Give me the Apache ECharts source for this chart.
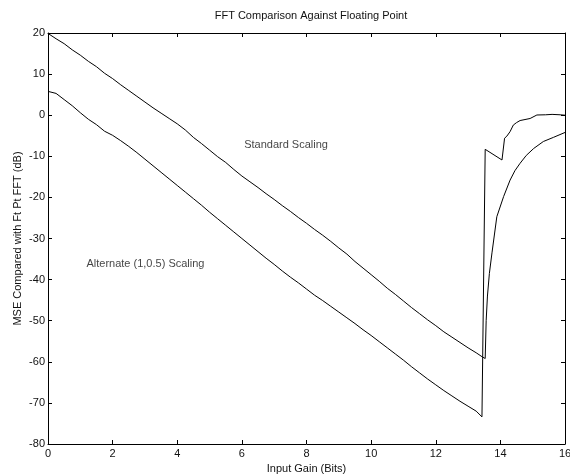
<!DOCTYPE html>
<html>
<head>
<meta charset="utf-8">
<script src="https://cdn.jsdelivr.net/npm/echarts@6/dist/echarts.min.js"></script>
<style>
  html, body { margin: 0; padding: 0; background: #fff; }
  #chart { width: 570px; height: 475px; }
</style>
</head>
<body>
<div id="chart"></div>
<script>
// Standard scaling curve (input gain in bits, MSE in dB)
var stdX = [0, 0.25, 0.5, 0.75, 1, 1.25, 1.5, 1.75, 2, 2.25, 2.5, 2.75, 3, 3.25, 3.5, 3.75,
  4, 4.25, 4.5, 4.75, 5, 5.25, 5.5, 5.75, 6, 6.25, 6.5, 6.75, 7, 7.25, 7.5, 7.75,
  8, 8.25, 8.5, 8.75, 9, 9.25, 9.5, 9.75, 10, 10.25, 10.5, 10.75, 11, 11.25, 11.5, 11.75,
  12, 12.25, 12.5, 12.75, 13, 13.25, 13.44, 13.53,
  13.56, 13.6, 13.66, 13.74, 13.89, 14.1, 14.3, 14.45, 14.61, 14.8, 15.03, 15.33, 15.64, 16]
var stdY = [19.9, 18.6, 17.4, 15.9, 14.6, 13.1, 11.8, 10.2, 8.9, 7.4, 6.0, 4.6, 3.2, 1.8, 0.5, -0.8,
  -2.1, -3.6, -5.4, -6.9, -8.5, -10.1, -11.5, -13.2, -14.8, -16.2, -17.6, -19.1, -20.5, -22.0, -23.4, -24.9,
  -26.3, -27.8, -29.2, -30.7, -32.3, -33.8, -35.6, -37.2, -38.8, -40.4, -42.1, -43.6, -45.2, -46.8, -48.3, -49.8,
  -51.2, -52.7, -54.0, -55.3, -56.6, -57.8, -58.8, -59.2,
  -50.0, -44.0, -38.5, -33.5, -24.7, -19.8, -15.8, -13.5, -11.7, -9.8, -8.1, -6.4, -5.4, -4.2]

// Alternate (1,0.5) scaling curve
var altX = [0, 0.25, 0.5, 0.75, 1, 1.25, 1.5, 1.75, 2, 2.25, 2.5, 2.75, 3, 3.25, 3.5, 3.75,
  4, 4.25, 4.5, 4.75, 5, 5.25, 5.5, 5.75, 6, 6.25, 6.5, 6.75, 7, 7.25, 7.5, 7.75,
  8, 8.25, 8.5, 8.75, 9, 9.25, 9.5, 9.75, 10, 10.25, 10.5, 10.75, 11, 11.25, 11.5, 11.75,
  12, 12.25, 12.5, 12.75, 13, 13.25, 13.43,
  13.53, 14.05, 14.13, 14.2, 14.3, 14.4, 14.5, 14.61, 14.92, 15.13, 15.4, 15.6, 15.85, 16]
var altY = [5.8, 5.3, 3.8, 2.3, 0.6, -1.0, -2.3, -3.9, -4.9, -6.2, -7.6, -9.1, -10.7, -12.3, -13.9, -15.5,
  -17.1, -18.7, -20.3, -21.9, -23.6, -25.2, -26.8, -28.4, -30.0, -31.6, -33.2, -34.8, -36.3, -37.9, -39.4, -40.8,
  -42.3, -43.8, -45.1, -46.5, -47.9, -49.3, -50.7, -52.2, -53.6, -55.1, -56.6, -58.1, -59.6, -61.2, -62.7, -64.2,
  -65.6, -67.0, -68.3, -69.6, -70.8, -72.0, -73.4,
  -8.3, -10.9, -5.6, -5.1, -4.0, -2.4, -1.8, -1.3, -0.8, 0.05, 0.1, 0.2, 0.1, 0]

var notes = [
  { name: "Standard Scaling", value: [6.07, -7.25] },
  { name: "Alternate (1,0.5) Scaling", value: [1.19, -36.3] },
]

function pairs(xs, ys) {
  return xs.map(function (x, i) { return [x, ys[i]] })
}

var font = "Liberation Sans, Arial, sans-serif"
var ink = "#111"

function xAx(pos, labels) {
  return {
    type: "value", position: pos, min: 0, max: 16, interval: 2,
    axisLine: { show: true, onZero: false, lineStyle: { color: "#000", width: 1 } },
    axisTick: { show: true, inside: true, length: 4, lineStyle: { color: "#000" } },
    axisLabel: { show: labels, color: ink, fontSize: 11, fontFamily: font, margin: 4 },
    splitLine: { show: false },
  }
}
function yAx(pos, labels) {
  return {
    type: "value", position: pos, min: -80, max: 20, interval: 10,
    axisLine: { show: true, onZero: false, lineStyle: { color: "#000", width: 1 } },
    axisTick: { show: true, inside: true, length: 4, lineStyle: { color: "#000" } },
    axisLabel: { show: labels, color: ink, fontSize: 11, fontFamily: font, margin: 3 },
    splitLine: { show: false },
  }
}

var x0 = xAx("bottom", true)
x0.name = "Input Gain (Bits)"
x0.nameLocation = "middle"
x0.nameGap = 18
x0.nameTextStyle = { color: ink, fontSize: 11, fontFamily: font }
var y0 = yAx("left", true)
y0.name = "MSE Compared with Ft Pt FFT (dB)"
y0.nameLocation = "middle"
y0.nameGap = 25
y0.nameMoveOverlap = false
y0.nameTextStyle = { color: ink, fontSize: 11, fontFamily: font }

var chart = echarts.init(document.getElementById("chart"))
chart.setOption({
  backgroundColor: "#fff",
  animation: false,
  title: {
    text: "FFT Comparison Against Floating Point",
    left: 306, top: 5, textAlign: "center",
    textStyle: { color: ink, fontSize: 11, fontWeight: "normal", fontFamily: font },
  },
  grid: { left: 48, right: 5, top: 33, bottom: 31, containLabel: false, outerBoundsMode: "none" },
  xAxis: [x0, xAx("top", false)],
  yAxis: [y0, yAx("right", false)],
  series: [
    {
      name: "Standard", type: "line", data: pairs(stdX, stdY),
      showSymbol: false, lineStyle: { color: "#000", width: 1 },
    },
    {
      name: "Alternate", type: "line", data: pairs(altX, altY),
      showSymbol: false, lineStyle: { color: "#000", width: 1 },
    },
    {
      name: "notes", type: "scatter", data: notes, symbolSize: 0,
      label: {
        show: true, position: "right", distance: 0, color: ink,
        fontSize: 11, fontFamily: font, formatter: function (p) { return p.name },
      },
    },
  ],
})
</script>
</body>
</html>
